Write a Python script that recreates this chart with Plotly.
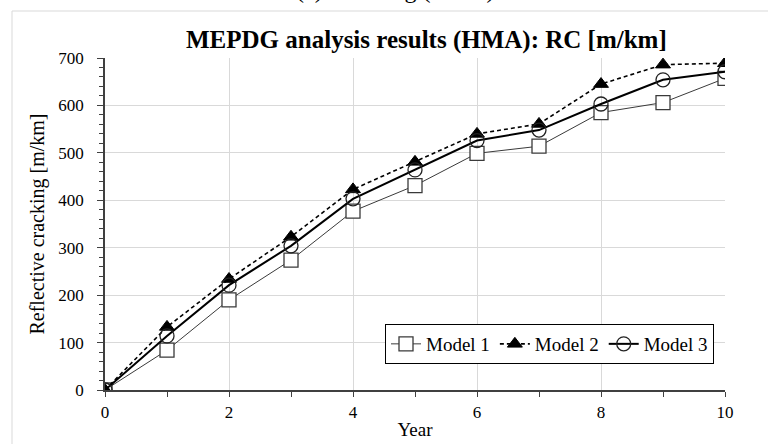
import plotly.graph_objects as go

# Reflective cracking predictions per model, years 0-10
years = [0, 1, 2, 3, 4, 5, 6, 7, 8, 9, 10]
model_1 = [0, 84, 190, 274, 377, 431, 499, 514, 585, 606, 657]
model_2 = [0, 133, 234, 323, 423, 481, 540, 561, 645, 686, 689]
model_3 = [0, 114, 221, 304, 403, 464, 526, 548, 603, 654, 671]

W, H = 768, 444
L, R, T, B = 105, 43, 58, 54
PW, PH = W - L - R, H - T - B


def px(x):
    return (x - L) / PW


def py(y):
    return (H - B - y) / PH


FONT = "Liberation Serif"

fig = go.Figure()

fig.add_trace(go.Scatter(
    x=years, y=model_1, name="Model 1", mode="lines+markers",
    line=dict(color="#3a3a3a", width=1),
    marker=dict(symbol="square", size=14, color="white",
                line=dict(color="#3a3a3a", width=1.3)),
))
fig.add_trace(go.Scatter(
    x=years, y=model_2, name="Model 2", mode="lines+markers",
    line=dict(color="black", width=1.6, dash="4px,3px"),
    marker=dict(symbol="triangle-up", size=13, color="black",
                line=dict(color="black", width=1)),
))
fig.add_trace(go.Scatter(
    x=years, y=model_3, name="Model 3", mode="lines+markers",
    line=dict(color="black", width=2),
    marker=dict(symbol="circle", size=14, color="rgba(255,255,255,0)",
                line=dict(color="#222222", width=1.3)),
))

fig.update_layout(
    width=W, height=H,
    margin=dict(l=L, r=R, t=T, b=B, pad=0, autoexpand=False),
    paper_bgcolor="white", plot_bgcolor="white",
    font=dict(family=FONT, color="black", size=17),
    showlegend=True,
    legend=dict(
        orientation="h", x=px(385), y=py(324), xanchor="left", yanchor="top",
        bgcolor="white", bordercolor="black", borderwidth=1,
        font=dict(family=FONT, size=19, color="black"),
        itemwidth=30, tracegroupgap=0,
    ),
    xaxis=dict(
        range=[0, 10], dtick=2, tick0=0, automargin=False,
        showgrid=True, gridcolor="#d9d9d9", gridwidth=1,
        zeroline=False, showline=True, linecolor="#404040", linewidth=1.5,
        ticks="outside", ticklen=5, tickcolor="#404040",
        minor=dict(dtick=1, ticks="outside", ticklen=5, tickcolor="#404040", showgrid=False),
        tickfont=dict(family=FONT, size=17),
        ticklabelstandoff=1,
        title=dict(text="Year", font=dict(family=FONT, size=19), standoff=2),
    ),
    yaxis=dict(
        range=[0, 700], dtick=100, tick0=0, automargin=False,
        showgrid=True, gridcolor="#d9d9d9", gridwidth=1,
        zeroline=False, showline=True, linecolor="#404040", linewidth=1.5,
        ticks="outside", ticklen=6, tickcolor="#404040",
        minor=dict(dtick=20, ticks="outside", ticklen=4, tickcolor="#404040", showgrid=False),
        tickfont=dict(family=FONT, size=17),
        ticklabelstandoff=10,
        title=dict(text="Reflective cracking [m/km]", font=dict(family=FONT, size=20), standoff=8),
    ),
    shapes=[
        # outer chart frame
        dict(type="rect", xref="paper", yref="paper",
             x0=px(12), x1=px(W + 5), y0=py(H + 5), y1=py(11),
             line=dict(color="#d9d9d9", width=1), layer="below"),
    ],
    annotations=[
        dict(text="<b>MEPDG analysis results (HMA): RC [m/km]</b>",
             xref="paper", yref="paper", x=px(426), y=py(40),
             xanchor="center", yanchor="middle", showarrow=False,
             font=dict(family=FONT, size=25, color="black")),
        dict(text="(c) Cracking (HMA)",
             xref="paper", yref="paper", x=px(395), y=py(-10),
             xanchor="center", yanchor="middle", showarrow=False,
             font=dict(family=FONT, size=24, color="black")),
    ],
)

fig.write_html("out.html")
